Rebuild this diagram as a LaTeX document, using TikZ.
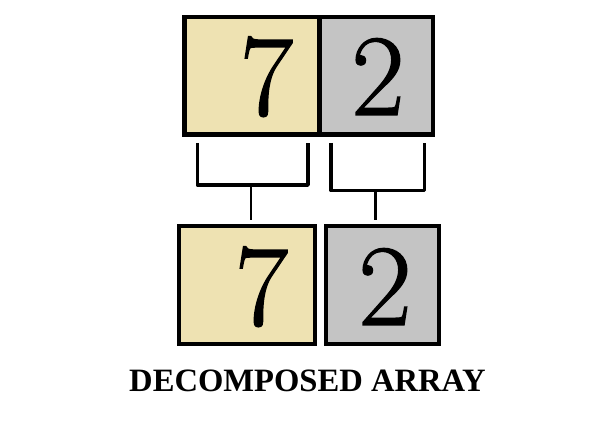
\documentclass[tikz,border=0pt]{standalone}
\usepackage{fontspec}
\newfontfamily\capfont{Liberation Serif}
\newfontfamily\digitfont[FakeBold=1.2]{Latin Modern Roman}
\definecolor{tan}{RGB}{238,226,178}
\definecolor{cellgray}{RGB}{196,196,196}
\begin{document}
\begin{tikzpicture}[x=1pt,y=-1pt,
  cell/.style={draw=black,line width=4.5pt,inner sep=0pt,outer sep=0pt,minimum height=117.7pt},
  digit/.style={inner sep=0pt,anchor=base,font=\digitfont\fontsize{116}{116}\selectfont},
  bracket/.style={draw=black,line width=3.5pt,line join=round},
  stem/.style={draw=black,line width=2.5pt}]
\useasboundingbox[fill=white] (0,0) rectangle (608,443);
% top array
\node[cell,fill=tan,minimum width=135.2pt] (t7) at (252.1,75.85) {};
\node[cell,fill=cellgray,minimum width=113.3pt] (t2) at (376.35,75.85) {};
\node[digit] (t7d) at (266.5,115) {7};
\node[digit] (t2d) at (378,115) {2};
% bottom cells
\node[cell,fill=tan,minimum width=136pt] (b7) at (247,285) {};
\node[cell,fill=cellgray,minimum width=113pt] (b2) at (382.5,285) {};
\node[digit] (b7d) at (261.5,325) {7};
\node[digit] (b2d) at (385,325) {2};
% brackets
\coordinate (l1) at (197.3,143);
\coordinate (l2) at (308,143);
\coordinate (lm) at (251,185);
\coordinate (r1) at (331,143);
\coordinate (r2) at (424.3,143);
\coordinate (rm) at (375.7,190.5);
\draw[bracket] (l1) |- (lm) -| (l2);
\draw[bracket] (r1) |- (rm) -| (r2);
\draw[stem,shorten >=6pt] (lm) -- (lm |- b7.north);
\draw[stem,shorten >=6pt] (rm) -- (rm |- b2.north);
% caption
\node[inner sep=0pt,anchor=base,font=\capfont\bfseries\fontsize{32.6}{34}\selectfont] (cap) at (307.5,392) {DECOMPOSED ARRAY};
\end{tikzpicture}
\end{document}
